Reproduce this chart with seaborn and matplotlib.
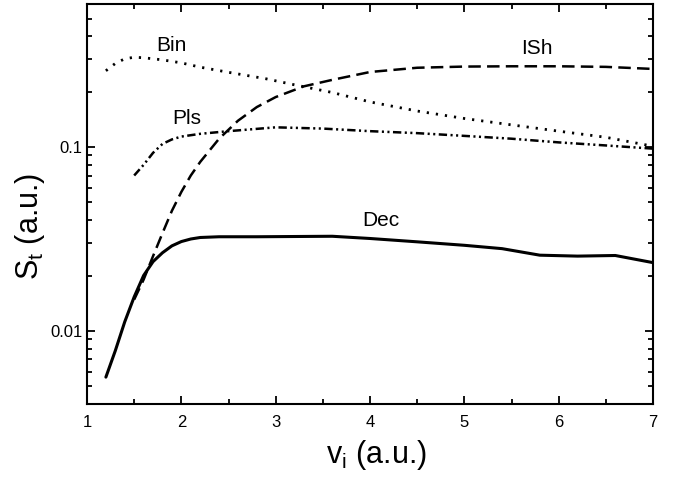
import numpy as np
import pandas as pd
import seaborn as sns
import matplotlib.pyplot as plt
from matplotlib.ticker import FixedLocator, NullFormatter, MultipleLocator

# values (x in a.u., y = S_t in a.u.)
dec_x = [1.2, 1.3, 1.4, 1.5, 1.6, 1.7, 1.8, 1.9, 2.0, 2.1, 2.2, 2.4, 2.8, 3.2, 3.6,
         4.0, 4.5, 5.0, 5.4, 5.8, 6.2, 6.6, 7.0]
dec_y = [0.0056, 0.0078, 0.0112, 0.0153, 0.0200, 0.0238, 0.0266, 0.0290, 0.0306, 0.0316,
         0.0322, 0.0325, 0.0325, 0.0326, 0.0327, 0.0318, 0.0305, 0.0292, 0.0280, 0.0258,
         0.0255, 0.0257, 0.0235]

ish_x = [1.5, 1.6, 1.7, 1.8, 1.9, 2.0, 2.1, 2.2, 2.4, 2.6, 2.8, 3.0, 3.3, 3.6, 4.0,
         4.5, 5.0, 5.5, 6.0, 6.5, 7.0]
ish_y = [0.0148, 0.019, 0.0255, 0.034, 0.045, 0.057, 0.070, 0.083, 0.111, 0.139, 0.165,
         0.187, 0.214, 0.232, 0.256, 0.270, 0.274, 0.275, 0.275, 0.273, 0.266]

bin_x = [1.2, 1.3, 1.4, 1.5, 1.6, 1.8, 2.0, 2.2, 2.5, 2.9, 3.2, 3.6, 4.0, 4.5, 5.0,
         5.5, 6.0, 6.5, 7.0]
bin_y = [0.26, 0.285, 0.302, 0.308, 0.306, 0.298, 0.287, 0.272, 0.255, 0.235, 0.218,
         0.198, 0.176, 0.157, 0.143, 0.132, 0.122, 0.113, 0.101]

pls_x = [1.5, 1.6, 1.7, 1.8, 1.9, 2.0, 2.2, 2.5, 3.0, 3.5, 4.0, 4.5, 5.0, 5.5, 6.0,
         6.5, 7.0]
pls_y = [0.070, 0.080, 0.093, 0.104, 0.110, 0.114, 0.118, 0.122, 0.128, 0.126, 0.122,
         0.119, 0.115, 0.111, 0.106, 0.102, 0.098]

sns.set_style("ticks")
plt.rcParams['font.family'] = ['Liberation Sans', 'DejaVu Sans']
plt.rcParams['mathtext.default'] = 'regular'
plt.rcParams['lines.scale_dashes'] = False
plt.rcParams['text.color'] = 'black'
plt.rcParams['axes.labelcolor'] = 'black'

fig = plt.figure(figsize=(6.73, 4.83), dpi=100)
ax = fig.add_axes([0.1293, 0.1636, 0.841, 0.8281])

sns.lineplot(x=dec_x, y=dec_y, ax=ax, color="black", lw=2.2, linestyle="-")
sns.lineplot(x=ish_x, y=ish_y, ax=ax, color="black", lw=1.8, linestyle=(0, (9, 4.5)))
sns.lineplot(x=bin_x, y=bin_y, ax=ax, color="black", lw=2.0, linestyle=(0, (1.6, 5)))
sns.lineplot(x=pls_x, y=pls_y, ax=ax, color="black", lw=1.8,
             linestyle=(0, (6, 2.5, 1.5, 2.5, 1.5, 2.5)))

ax.set_yscale("log")
ax.set_xlim(1, 7)
ax.set_ylim(0.004, 0.6)

ax.xaxis.set_major_locator(MultipleLocator(1))
ax.xaxis.set_minor_locator(MultipleLocator(0.5))
ax.yaxis.set_major_locator(FixedLocator([0.01, 0.1]))
ax.set_yticklabels(["0.01", "0.1"])
minors = [m * 10.0 ** e for e in (-3, -2, -1) for m in range(2, 10)]
ax.yaxis.set_minor_locator(FixedLocator(minors))
ax.yaxis.set_minor_formatter(NullFormatter())

ax.tick_params(which="both", direction="in", top=True, right=True, width=1.3,
               labelsize=12, colors="black")
ax.tick_params(which="major", length=6)
ax.tick_params(which="minor", length=3.5)
ax.tick_params(axis="x", pad=8)
for s in ax.spines.values():
    s.set_linewidth(1.5)
    s.set_color("black")

ax.set_xlabel("v$_i$ (a.u.)", fontsize=22)
ax.set_ylabel("S$_t$ (a.u.)", fontsize=22)
ax.xaxis.set_label_coords(0.512, -0.085)
ax.yaxis.set_label_coords(-0.07, 0.445)

ax.text(1.9, 0.357, "Bin", fontsize=15, ha="center", va="center")
ax.text(2.06, 0.143, "Pls", fontsize=15, ha="center", va="center")
ax.text(5.77, 0.343, "ISh", fontsize=15, ha="center", va="center")
ax.text(4.11, 0.040, "Dec", fontsize=15, ha="center", va="center")

fig.savefig("out.png", dpi=100)
